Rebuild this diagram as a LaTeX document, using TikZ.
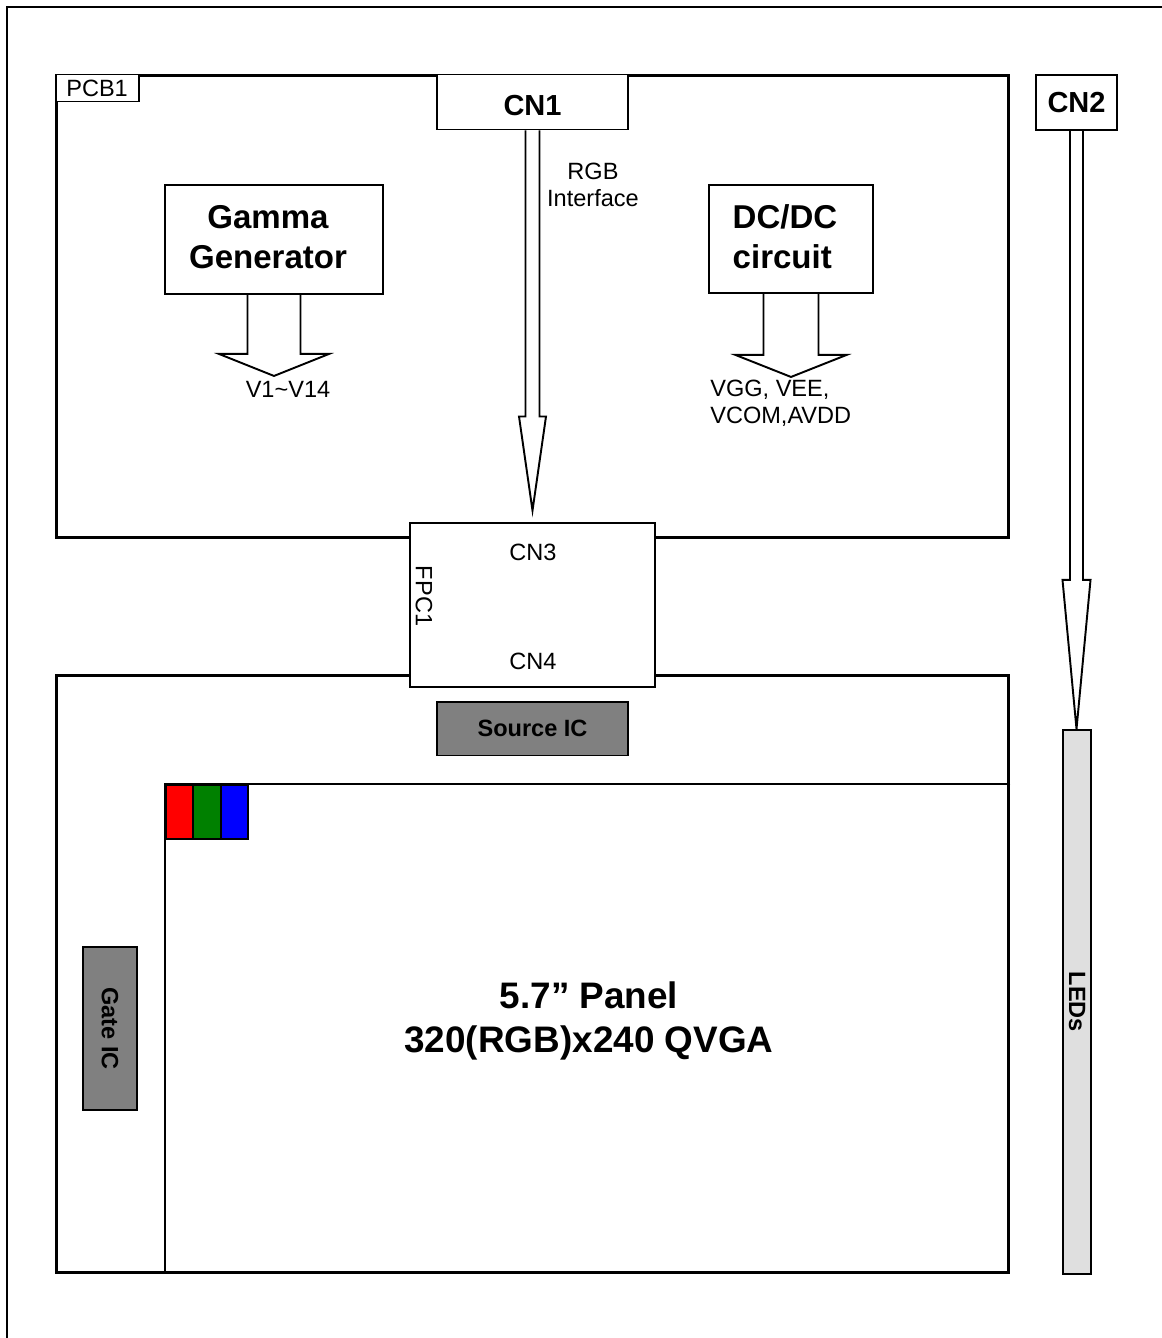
\documentclass[tikz,border=0pt]{standalone}
\usepackage{fontspec}
\setmainfont{Liberation Sans}
\usetikzlibrary{calc}

\begin{document}
\begin{tikzpicture}[
  x=0.02cm, y=-0.02cm,
  every node/.style={inner sep=0pt},
  txt/.style={font=\fontsize{13.4}{15.4}\selectfont, align=center},
  board/.style={draw=black, line width=1.7pt, fill=white},
  box/.style={draw=black, fill=white, line width=1.1pt, align=center},
  cnbox/.style={box, font=\bfseries\fontsize{16.5}{19}\selectfont},
  blktxt/.style={font=\bfseries\fontsize{18.8}{22.8}\selectfont},
  chip/.style={box, fill=gray, font=\bfseries\fontsize{13.4}{15.4}\selectfont},
  cell/.style={draw=black, line width=1.1pt, minimum width=0.546cm, minimum height=1.08cm},
  fat/.style={draw=black, line width=1.1pt, line join=miter},
  fatarrow/.style n args={4}{insert path={++(-#2,0) -- ++(0,#1-#4) -- ++(#2-#3,0)
      -- ++(#3,#4) -- ++(#3,-#4) -- ++(#2-#3,0) -- ++(0,#4-#1)}},
]
\useasboundingbox (0,0) rectangle (1161,1338);

% ===== OUTER FRAME =====
\draw[line width=1.1pt] (7,1400) -- (7,7) -- (1250,7);

% ===== PCB1 =====
\node[board, minimum width=19.06cm, minimum height=9.26cm] (pcb) at (532.5,306.5) {};
\node[box, txt, anchor=north west, minimum width=1.66cm, minimum height=0.54cm] (pcbtag) at (pcb.north west) {PCB1};
\node[cnbox, anchor=north, text height=15.8pt, minimum width=3.82cm, minimum height=1.1cm] (cn1) at (pcb.north) {CN1};
\node[box, minimum width=4.36cm, minimum height=2.18cm] (gamma) at (274,239.5) {};
\node[blktxt, align=center] at ($(gamma.center)+(-6,-2)$) {Gamma\\Generator};
\node[box, minimum width=3.28cm, minimum height=2.16cm] (dcdc) at (791,239) {};
\node[blktxt, align=left] at ($(dcdc.center)+(-6,-2)$) {DC/DC\\circuit};

% ===== PANEL =====
\node[board, minimum width=19.06cm, minimum height=11.96cm] (panel) at (532.5,974) {};
\node[chip, anchor=north, minimum width=3.82cm, minimum height=1.08cm] (srcic) at ($(panel.north)+(0,27)$) {Source IC};
\coordinate (aa) at (165,784);
\draw[line width=0.9pt] (aa -| panel.east) -- (aa) -- (aa |- panel.south);
\foreach \col [count=\i from 0] in {red, green!50!black, blue}
  \node[cell, fill=\col, anchor=north west] (pix\i) at ($(aa)+(\i*27.3,0)$) {};
\node[chip, minimum width=1.08cm, minimum height=3.26cm] (gateic) at (110,1028.5) {};
\node[font=\bfseries\fontsize{13.4}{15.4}\selectfont, rotate=-90] at (gateic.center) {Gate IC};
\node[font=\bfseries\fontsize{21}{25}\selectfont, align=center] (paneltxt) at (589,1021) {5.7” Panel\\320(RGB)x240 QVGA};

% ===== FPC1 =====
\node[box, minimum width=4.9cm, minimum height=3.28cm] (fpc) at (532.5,605) {};
\node[txt, rotate=-90] (fpclbl) at (424,596) {FPC1};
\node[txt] (cn3) at (533,552) {CN3};
\node[txt] (cn4) at (533,661) {CN4};

% ===== BACKLIGHT =====
\node[cnbox, minimum width=1.62cm, minimum height=1.1cm] (cn2) at (1076.5,102.5) {CN2};
\node[box, fill=gray!25, anchor=north, minimum width=0.56cm, minimum height=10.88cm] (leds) at (1077,729) {};
\node[font=\bfseries\fontsize{13.4}{15.4}\selectfont, rotate=-90] at (leds.center) {LEDs};

% ===== ARROWS =====
\draw[fat] (gamma.south) [fatarrow={81}{26.5}{55}{22}];
\draw[fat] (dcdc.south) [fatarrow={83}{27.5}{55.5}{22}];
\draw[fat] (cn1.south) [fatarrow={380}{7}{13.5}{94}];
\draw[fat] (cn2.south) [fatarrow={598}{6.5}{14}{149}];

% ===== LABELS =====
\node[txt] (rgblbl) at (593,185) {RGB\\Interface};
\node[txt] (vgamma) at (288,389) {V1\textasciitilde V14};
\node[txt, anchor=west, align=left] (vdcdc) at (710,403) {VGG, VEE,\\VCOM,AVDD};

\end{tikzpicture}
\end{document}
